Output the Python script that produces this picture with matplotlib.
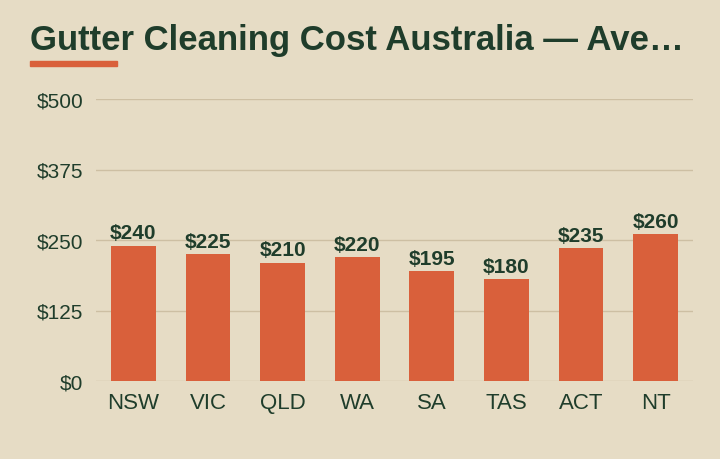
import matplotlib
matplotlib.use("Agg")
import matplotlib.pyplot as plt
from matplotlib.patches import Rectangle

# data
states = ["NSW", "VIC", "QLD", "WA", "SA", "TAS", "ACT", "NT"]
avg_cost = [240, 225, 210, 220, 195, 180, 235, 260]
yticks = [0, 125, 250, 375, 500]

bg = "#E6DCC5"
ink = "#1F3D2B"
bar_col = "#D9603B"
grid_col = "#CDBFA3"

plt.rcParams["font.family"] = ["Liberation Sans", "DejaVu Sans"]

fig = plt.figure(figsize=(7.2, 4.6), dpi=100, facecolor=bg)
ax = fig.add_axes([96 / 720, 1 - 382 / 460, 597 / 720, 282 / 460])
ax.set_facecolor(bg)

ax.bar(range(len(states)), avg_cost, width=0.6, color=bar_col, zorder=3)
for i, v in enumerate(avg_cost):
    ax.text(i, v + 6, f"${v}", ha="center", va="bottom", fontsize=15,
            fontweight="bold", color=ink, zorder=4)

ax.set_xlim(-0.5, len(states) - 0.5)
ax.set_ylim(0, 500)
ax.set_yticks(yticks)
ax.set_yticklabels([f"${t}" for t in yticks], fontsize=15, color=ink)
ax.set_xticks(range(len(states)))
ax.set_xticklabels(states, fontsize=16, color=ink)
ax.tick_params(length=0)
ax.tick_params(axis="y", pad=9)
ax.tick_params(axis="x", pad=8)
ax.grid(axis="y", color=grid_col, linewidth=1, zorder=0)
for s in ax.spines.values():
    s.set_visible(False)

# title + accent underline
fig.text(30 / 720, 1 - 50 / 460, "Gutter Cleaning Cost Australia \u2014 Ave\u2026",
         fontsize=25, fontweight="bold", color=ink, va="baseline")
fig.patches.append(Rectangle((30 / 720, 1 - 67 / 460), 87 / 720, 5 / 460,
                             transform=fig.transFigure, color=bar_col))

fig.savefig("out.png", dpi=100, facecolor=bg)
